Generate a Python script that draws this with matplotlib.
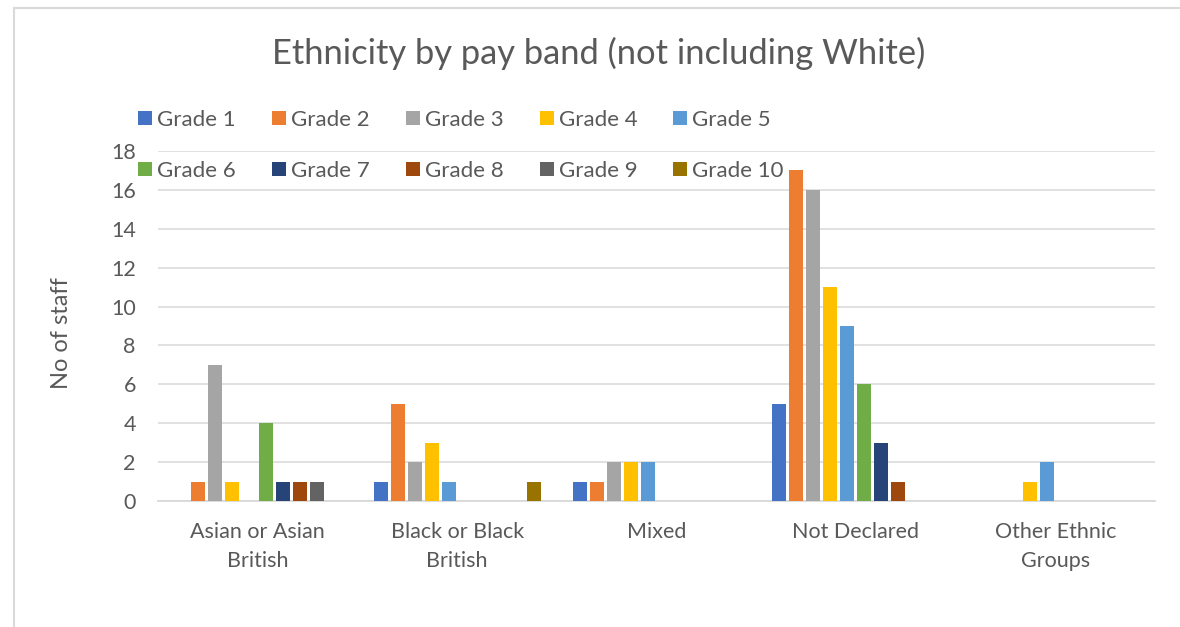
import matplotlib
matplotlib.use("Agg")
import matplotlib.pyplot as plt
from matplotlib.patches import Patch
from matplotlib.lines import Line2D
import numpy as np

plt.rcParams['font.family'] = ['Lato', 'DejaVu Sans']

categories = ["Asian or Asian\nBritish", "Black or Black\nBritish", "Mixed",
              "Not Declared", "Other Ethnic\nGroups"]
grades = ["Grade 1", "Grade 2", "Grade 3", "Grade 4", "Grade 5",
          "Grade 6", "Grade 7", "Grade 8", "Grade 9", "Grade 10"]
# staff counts per grade, one value per category
grade_1 = [0, 1, 1, 5, 0]
grade_2 = [1, 5, 1, 17, 0]
grade_3 = [7, 2, 2, 16, 0]
grade_4 = [1, 3, 2, 11, 1]
grade_5 = [0, 1, 2, 9, 2]
grade_6 = [4, 0, 0, 6, 0]
grade_7 = [1, 0, 0, 3, 0]
grade_8 = [1, 0, 0, 1, 0]
grade_9 = [1, 0, 0, 0, 0]
grade_10 = [0, 1, 0, 0, 0]
series = [grade_1, grade_2, grade_3, grade_4, grade_5,
          grade_6, grade_7, grade_8, grade_9, grade_10]
colors = ["#4472C4", "#ED7D31", "#A5A5A5", "#FFC000", "#5B9BD5",
          "#70AD47", "#264478", "#9E480E", "#636363", "#997300"]

text_col = "#595959"
grid_col = "#D9D9D9"

fig = plt.figure(figsize=(11.8, 6.27), dpi=100)
ax = fig.add_axes([0.1339, 0.2010, 0.8450, 0.5582])

x = np.arange(len(categories))
step = 17 / 199.4
width = 14 / 199.4
for i, vals in enumerate(series):
    ax.bar(x + (i - 4.5) * step, vals, width, color=colors[i], zorder=3)

ax.set_xlim(-0.5, len(categories) - 0.5)
ax.set_ylim(0, 18)
ax.set_yticks(range(0, 19, 2))
ax.set_xticks(x)
ax.set_xticklabels(categories, fontsize=15.5, color=text_col, linespacing=1.58)
ax.tick_params(axis='y', labelsize=15.5, colors=text_col, length=0, pad=16)
ax.tick_params(axis='x', length=0, pad=15)
ax.grid(axis='y', color=grid_col, linewidth=1.1, zorder=0)
for s in ['top', 'right', 'left']:
    ax.spines[s].set_visible(False)
ax.spines['bottom'].set_color(grid_col)
ax.spines['bottom'].set_linewidth(1.3)
ax.set_ylabel("No of staff", fontsize=17, color=text_col)
ax.yaxis.set_label_coords(-0.0863, 0.48)

fig.text(0.507, 0.914, "Ethnicity by pay band (not including White)",
         ha='center', va='center', fontsize=24.8, color=text_col)

# legend: rows Grade 1-5 then Grade 6-10
order = [0, 5, 1, 6, 2, 7, 3, 8, 4, 9]
handles = [Patch(facecolor=colors[i], edgecolor='none') for i in order]
labels = [grades[i] for i in order]
fig.legend(handles, labels, ncol=5, loc='upper left',
           bbox_to_anchor=(0.117, 0.825), frameon=False, fontsize=16,
           handlelength=0.63, handleheight=0.63, handletextpad=0.22,
           columnspacing=1.63, labelspacing=1.39, labelcolor=text_col,
           borderpad=0, borderaxespad=0)

# chart frame (partially visible)
fig.add_artist(Line2D([14 / 1180, 1], [1 - 8 / 627, 1 - 8 / 627],
                      transform=fig.transFigure, color=grid_col, linewidth=1.5))
fig.add_artist(Line2D([14 / 1180, 14 / 1180], [0, 1 - 8 / 627],
                      transform=fig.transFigure, color=grid_col, linewidth=1.5))

fig.savefig("out.png", dpi=100)
